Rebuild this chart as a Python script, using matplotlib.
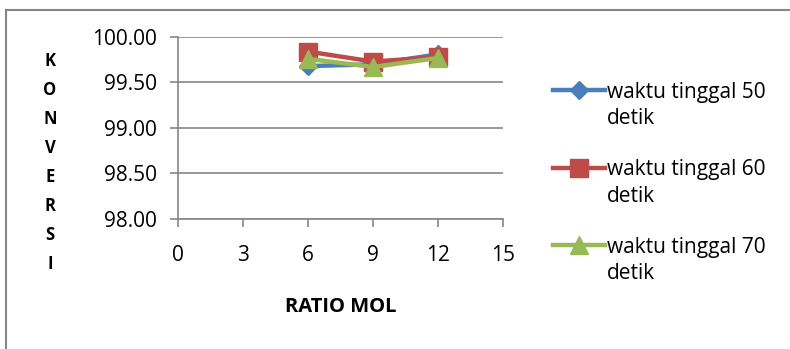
import matplotlib
matplotlib.use("Agg")
import matplotlib.pyplot as plt
from matplotlib.lines import Line2D

plt.rcParams['font.family'] = ['Open Sans', 'DejaVu Sans']

ratio_mol = [6, 9, 12]
konversi_50 = [99.68, 99.70, 99.81]
konversi_60 = [99.84, 99.73, 99.78]
konversi_70 = [99.76, 99.67, 99.77]
series_labels = ["waktu tinggal 50\ndetik", "waktu tinggal 60\ndetik", "waktu tinggal 70\ndetik"]
x_ticks = [0, 3, 6, 9, 12, 15]
y_ticks = [98.00, 98.50, 99.00, 99.50, 100.00]
y_title = "KONVERSI"

W, H = 790, 349
fig = plt.figure(figsize=(W / 100, H / 100), dpi=100)
ax = fig.add_axes([0.225, 0.3725, 0.412, 0.5215])

colors = ["#4A7EBB", "#BE4B48", "#98B954"]
markers = ["D", "s", "^"]
sizes = [9, 13, 13]
series = [konversi_50, konversi_60, konversi_70]

for vals, c, m, s, lab in zip(series, colors, markers, sizes, series_labels):
    ax.plot(ratio_mol, vals, color=c, lw=3.2, marker=m, ms=s, mec=c, label=lab)

ax.set_xlim(0, 15)
ax.set_ylim(98, 100)
ax.set_xticks(x_ticks)
ax.set_yticks(y_ticks)
ax.set_yticklabels([f"{v:.2f}" for v in y_ticks])
ax.grid(axis="y", color="#868686", lw=1.2)
ax.set_axisbelow(True)
for side in ["top", "right"]:
    ax.spines[side].set_visible(False)
for side in ["left", "bottom"]:
    ax.spines[side].set_color("#868686")
    ax.spines[side].set_linewidth(1.2)
ax.tick_params(axis="both", colors="#868686", labelcolor="black", labelsize=15, length=6, width=1.2)
ax.tick_params(axis="x", pad=13)
ax.tick_params(axis="y", pad=9)

ax.set_xlabel("RATIO MOL", fontsize=14.5, fontweight="bold", labelpad=22)

# vertical stacked axis title
for i, ch in enumerate(y_title):
    y_px = 61 + i * 29.0
    fig.text(50 / W, 1 - y_px / H, ch, ha="center", va="center",
             fontsize=12, fontweight="bold")

# legend drawn entry by entry
for i, (c, m, s, lab) in enumerate(zip(colors, markers, sizes, series_labels)):
    y_px = 90 + i * 77.5
    yf = 1 - y_px / H
    fig.add_artist(Line2D([553 / W, 605 / W], [yf, yf], transform=fig.transFigure,
                          color=c, lw=3.2))
    fig.add_artist(Line2D([579 / W], [yf], transform=fig.transFigure,
                          color=c, marker=m, ms=s, mec=c, lw=0))
    fig.text(607 / W, 1 - (y_px + 15.5) / H, lab, ha="left", va="center",
             fontsize=15, linespacing=1.35)

# chart area border
fig.add_artist(Line2D([6 / W, 1.0], [1 - 10 / H, 1 - 10 / H], transform=fig.transFigure,
                      color="#868686", lw=1.5))
fig.add_artist(Line2D([6 / W, 6 / W], [0.0, 1 - 10 / H], transform=fig.transFigure,
                      color="#868686", lw=1.5))

fig.savefig("out.png", dpi=100, facecolor="white")
